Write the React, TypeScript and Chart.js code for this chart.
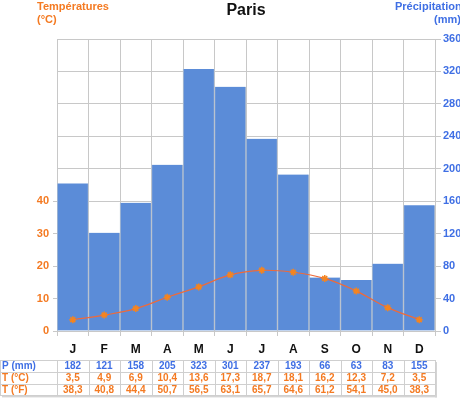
import React, { useEffect, useRef } from "react";
import { Chart, registerables } from "chart.js";

Chart.register(...registerables);

const months = ["J", "F", "M", "A", "M", "J", "J", "A", "S", "O", "N", "D"];
const precip = [182, 121, 158, 205, 323, 301, 237, 193, 66, 63, 83, 155];
const tempC = [3.5, 4.9, 6.9, 10.4, 13.6, 17.3, 18.7, 18.1, 16.2, 12.3, 7.2, 3.5];
const tempF = ["38,3", "40,8", "44,4", "50,7", "56,5", "63,1", "65,7", "64,6", "61,2", "54,1", "45,0", "38,3"];
const rowLabels = ["P (mm)", "T (°C)", "T (°F)"];
const title = "Paris";
const leftTitle = ["Températures", "(°C)"];
const rightTitle = ["Précipitations", "(mm)"];

const BLUE = "#3f6fe4";
const BAR = "#5b8cd8";
const ORANGE = "#f47a22";
const LINE = "#ee6a3a";
const GRID = "#c8c8c8";
const FONT = "'Liberation Sans', Arial, sans-serif";

const fmt = (v: number) => v.toFixed(1).replace(".", ",");

const overlay = {
  id: "overlay",
  afterDraw(chart: any) {
    const ctx = chart.ctx as CanvasRenderingContext2D;
    const xs = chart.scales.x;
    const area = chart.chartArea;
    ctx.save();
    // title
    ctx.fillStyle = "#111";
    ctx.font = `bold 16px ${FONT}`;
    ctx.textAlign = "center";
    ctx.textBaseline = "alphabetic";
    ctx.fillText(title, (area.left + area.right) / 2, 15);
    // axis titles
    ctx.font = `bold 11px ${FONT}`;
    ctx.fillStyle = ORANGE;
    ctx.textAlign = "left";
    ctx.fillText(leftTitle[0], 37, 10);
    ctx.fillText(leftTitle[1], 37, 23);
    ctx.fillStyle = BLUE;
    ctx.fillText(rightTitle[0], 395, 10);
    ctx.textAlign = "right";
    ctx.fillText(rightTitle[1], 461, 23);

    // table
    const top = 360;
    const rh = 11.8;
    const n = months.length;
    const half = (xs.getPixelForValue(1) - xs.getPixelForValue(0)) / 2;
    const tableRight = xs.getPixelForValue(n - 1) + half;
    // shadow
    ctx.fillStyle = "#d4d4d4";
    ctx.fillRect(2, top + rh * 3, tableRight, 2);
    ctx.fillRect(tableRight, top + 2, 2, rh * 3);
    ctx.fillStyle = "#fff";
    ctx.fillRect(0, top, tableRight, rh * 3);
    ctx.strokeStyle = "#cfcfcf";
    ctx.lineWidth = 1;
    ctx.beginPath();
    for (let r = 0; r <= 3; r++) {
      const y = Math.round(top + r * rh) + 0.5;
      ctx.moveTo(0, y);
      ctx.lineTo(tableRight, y);
    }
    ctx.moveTo(0.5, top);
    ctx.lineTo(0.5, top + rh * 3);
    for (let i = 0; i <= n; i++) {
      const x = Math.round(xs.getPixelForValue(0) - half + i * half * 2) + 0.5;
      ctx.moveTo(x, top);
      ctx.lineTo(x, top + rh * 3);
    }
    ctx.stroke();

    ctx.font = `bold 10px ${FONT}`;
    ctx.textBaseline = "middle";
    const rowColors = [BLUE, ORANGE, ORANGE];
    const rows = [precip.map(String), tempC.map(fmt), tempF];
    for (let r = 0; r < 3; r++) {
      const cy = top + r * rh + rh / 2 + 0.5;
      ctx.fillStyle = rowColors[r];
      ctx.textAlign = "left";
      ctx.fillText(rowLabels[r], 2, cy);
      ctx.textAlign = "center";
      for (let i = 0; i < n; i++) {
        ctx.fillText(rows[r][i], xs.getPixelForValue(i), cy);
      }
    }
    ctx.restore();
  },
};

export default function App() {
  const ref = useRef<HTMLCanvasElement>(null);
  useEffect(() => {
    if (!ref.current) return;
    const chart = new Chart(ref.current, {
      type: "bar",
      data: {
        labels: months,
        datasets: [
          {
            type: "line",
            data: tempC,
            yAxisID: "yT",
            borderColor: LINE,
            borderWidth: 1.2,
            tension: 0.4,
            pointStyle: "star",
            pointRadius: 3.5,
            pointBorderWidth: 1.5,
            pointBorderColor: "#f5841f",
            pointBackgroundColor: "#f5841f",
            order: 0,
          } as any,
          {
            type: "bar",
            data: precip,
            yAxisID: "yP",
            backgroundColor: BAR,
            borderColor: "#b9c3d0",
            borderWidth: { left: 1, right: 1, top: 0, bottom: 0 },
            borderSkipped: false,
            barPercentage: 1,
            categoryPercentage: 1,
            order: 1,
          } as any,
        ],
      },
      options: {
        responsive: false,
        animation: false,
        layout: { padding: { top: 39, left: 0, right: 0, bottom: 0 } },
        plugins: { legend: { display: false }, tooltip: { enabled: false }, title: { display: false } },
        scales: {
          x: {
            afterFit: (s: any) => {
              s.height = 67;
            },
            grid: { color: GRID, tickLength: 5, offset: true },
            border: { color: GRID },
            ticks: { color: "#111", font: { family: FONT, size: 12, weight: "bold" }, padding: 6 },
          },
          yT: {
            position: "left",
            min: 0,
            max: 90,
            afterFit: (s: any) => {
              s.width = 57;
            },
            afterBuildTicks: (s: any) => {
              s.ticks = [0, 10, 20, 30, 40].map((v) => ({ value: v }));
            },
            grid: { drawOnChartArea: false, color: GRID, tickLength: 4 },
            border: { display: false },
            ticks: { color: ORANGE, font: { family: FONT, size: 11, weight: "bold" }, padding: 4 },
          },
          yP: {
            position: "right",
            min: 0,
            max: 360,
            afterFit: (s: any) => {
              s.width = 25;
            },
            grid: { color: GRID, tickLength: 6 },
            border: { display: false },
            ticks: { stepSize: 40, color: BLUE, font: { family: FONT, size: 11, weight: "bold" }, padding: 2 },
          },
        },
      } as any,
      plugins: [overlay],
    });
    return () => chart.destroy();
  }, []);
  return (
    <canvas
      ref={ref}
      width={460}
      height={398}
      style={{ position: "absolute", left: 0, top: 0, width: 460, height: 398 }}
    />
  );
}
